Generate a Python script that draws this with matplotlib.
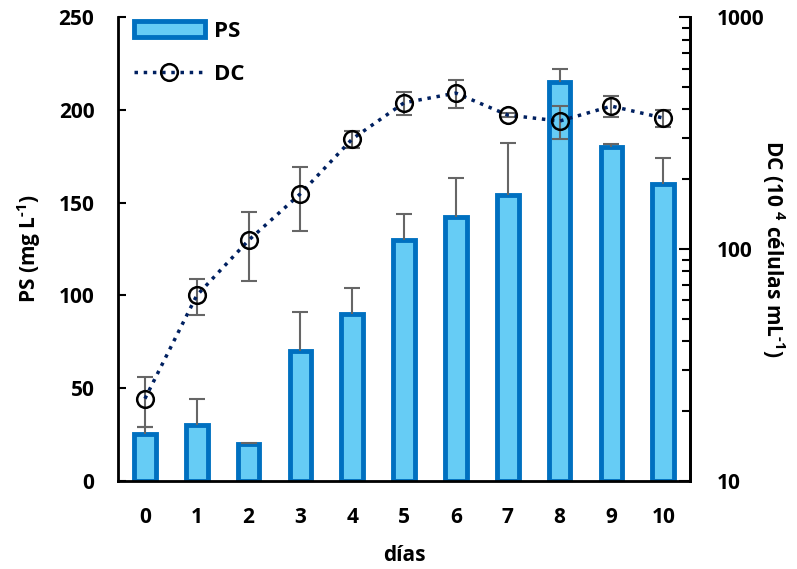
import numpy as np
import matplotlib
matplotlib.use('Agg')
import matplotlib.pyplot as plt
from matplotlib.ticker import LogLocator, NullFormatter, FixedLocator, FixedFormatter

plt.rcParams['font.family'] = ['Open Sans', 'DejaVu Sans']
plt.rcParams['font.weight'] = 'bold'
plt.rcParams['mathtext.fontset'] = 'custom'
plt.rcParams['mathtext.rm'] = 'Open Sans:bold'
plt.rcParams['mathtext.bf'] = 'Open Sans:bold'
plt.rcParams['mathtext.default'] = 'rm'

# --- data ---
days = np.arange(11)
ps = [25, 30, 20, 70, 90, 130, 142, 154, 215, 180, 160]
ps_err = [4, 14, 0.5, 21, 14, 14, 21, 28, 7, 1.5, 14]
dc = [22.6, 63, 109, 173, 298, 427, 470, 378, 356, 413, 367]
dc_err = [5.5, 11, 36, 53, 25, 48, 63, 8, 57, 42, 31]

bar_face = '#66CCF5'
bar_edge = '#0070C0'
err_col = '#666666'
line_col = '#002060'
fs = 15

fig = plt.figure(figsize=(7.97, 5.69), dpi=100)
ax = fig.add_axes([0.148, 0.155, 0.718, 0.815])
ax2 = ax.twinx()

# --- PS bars, error bars upward only ---
ax.bar(days, ps, width=0.42, color=bar_face, edgecolor=bar_edge, linewidth=3.5,
       label='PS', zorder=2)
ps_top = np.array(ps) + np.array(ps_err)
ax.vlines(days, ps, ps_top, color=err_col, linewidth=1.5, zorder=3)
ax.plot(days, ps_top, linestyle='none', marker='_', markersize=12,
        markeredgewidth=1.5, color=err_col, zorder=3)
ax.set_xlim(-0.52, 10.52)
ax.set_ylim(0, 250)
ax.set_yticks([0, 50, 100, 150, 200, 250])
ax.set_xticks(days)
ax.set_xlabel('días', fontsize=fs, fontweight='bold', labelpad=12)
ax.set_ylabel('PS (mg L$^{\\text{-}1}$)', fontsize=fs, fontweight='bold', labelpad=11)
ax.tick_params(axis='y', direction='in', length=6, width=1.5, labelsize=fs, pad=17)
ax.tick_params(axis='x', length=0, labelsize=fs, pad=19)
for s in ['left', 'bottom', 'right']:
    ax.spines[s].set_linewidth(2)
ax.spines['top'].set_visible(False)

# --- DC line on log axis ---
ax2.set_yscale('log')
ax2.set_ylim(10, 1000)
ax2.errorbar(days, dc, yerr=dc_err, fmt='none', ecolor=err_col, elinewidth=1.5,
             capsize=6, capthick=1.5, zorder=4)
ax2.plot(days, dc, linestyle=':', color=line_col, linewidth=2.5, marker='o',
         markersize=12, markerfacecolor='none', markeredgecolor='black',
         markeredgewidth=1.8, label='DC', zorder=5)
ax2.yaxis.set_major_locator(FixedLocator([10, 100, 1000]))
ax2.yaxis.set_major_formatter(FixedFormatter(['10', '100', '1000']))
ax2.yaxis.set_minor_locator(LogLocator(base=10, subs=np.arange(2, 10)))
ax2.yaxis.set_minor_formatter(NullFormatter())
ax2.tick_params(axis='y', which='major', direction='in', length=8, width=1.5,
                labelsize=fs, pad=19)
ax2.tick_params(axis='y', which='minor', direction='in', length=6, width=1.5)
ax2.set_ylabel('DC (10 $^{4}$ células mL$^{\\text{-}1}$)', fontsize=fs,
               fontweight='bold', rotation=270, labelpad=16)
ax2.spines['right'].set_linewidth(2)
ax2.spines['top'].set_visible(False)

h1, l1 = ax.get_legend_handles_labels()
h2, l2 = ax2.get_legend_handles_labels()
leg = ax2.legend(h1 + h2, l1 + l2, loc='upper left', frameon=False, fontsize=16,
                 bbox_to_anchor=(0.0, 1.025), handlelength=3.2, handletextpad=0.4,
                 borderaxespad=0.3, labelspacing=1.0)
for t in leg.get_texts():
    t.set_fontweight('bold')

fig.savefig('out.png', dpi=100)
